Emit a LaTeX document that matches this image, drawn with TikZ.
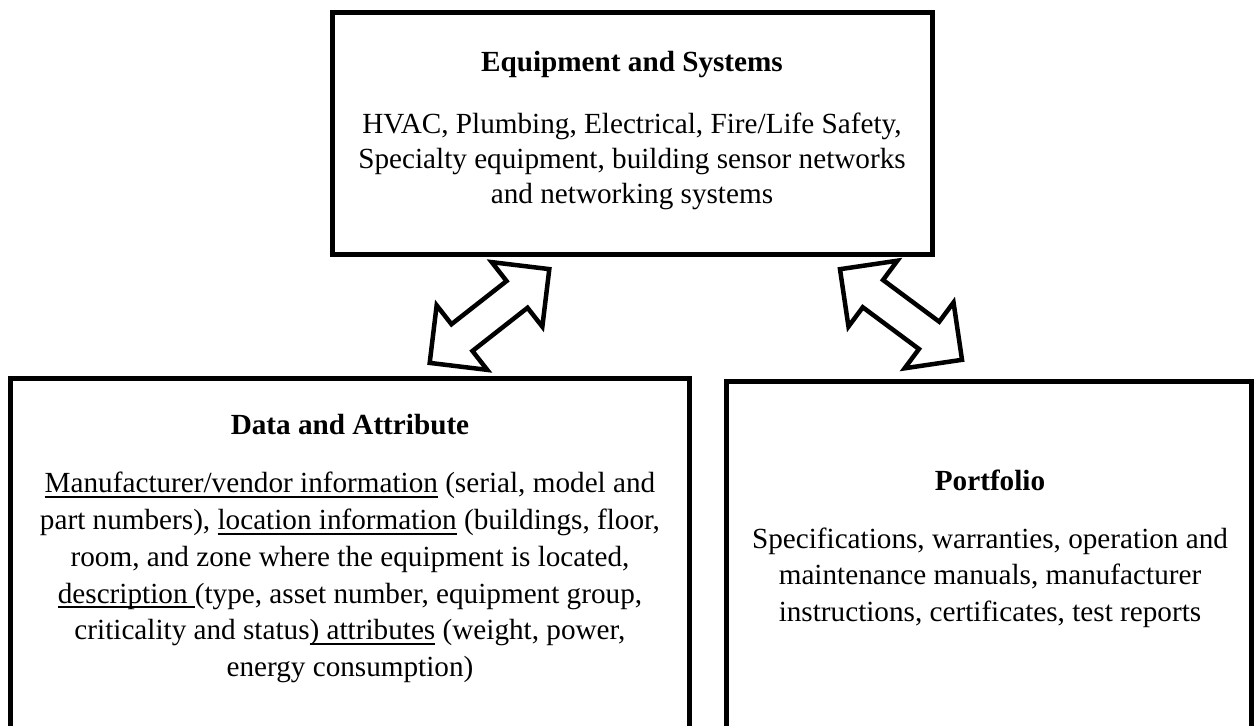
\documentclass[tikz,border=0pt]{standalone}
\usepackage{fontspec}
\setmainfont{Liberation Serif}
\newsavebox\ulbox
\newcommand{\myul}[1]{\sbox\ulbox{#1}\rlap{\rule[-5pt]{\wd\ulbox}{1.8pt}}\usebox\ulbox}
\tikzset{
  box/.style={draw, line width=5pt, rectangle, inner sep=0pt},
  blockarrow/.style={draw, line width=4.5pt, line join=miter, fill=white},
  boxtext/.style={anchor=north, inner sep=0pt, align=center,
    font={\fontsize{29.2}{36.7}\selectfont}},
}
\begin{document}
\begin{tikzpicture}[x=1pt,y=-1pt]
\useasboundingbox (0,0) rectangle (1254,726);
\clip (0,0) rectangle (1254,726);
\fill[white] (0,0) rectangle (1254,726);
% boxes
\node[box, minimum width=600pt, minimum height=242pt] (equip) at (632.5,133.5) {};
\node[box, minimum width=679pt, minimum height=420pt] (data) at (350,588) {};
\node[box, minimum width=525pt, minimum height=420pt] (port) at (989,591.5) {};
% texts
\node[boxtext, font={\fontsize{29.2}{35}\selectfont}] (equiptext) at (632,51) {\textbf{Equipment and Systems}\\[27pt]
HVAC, Plumbing, Electrical, Fire/Life Safety,\\
Specialty equipment, building sensor networks\\
and networking systems};
\node[boxtext] (datatext) at (350,414.5) {\textbf{Data and Attribute}\\[21.3pt]
\myul{Manufacturer/vendor information} (serial, model and\\
part numbers), \myul{location information} (buildings, floor,\\
room, and zone where the equipment is located,\\
\myul{description }(type, asset number, equipment group,\\
criticality and status\myul{) attributes} (weight, power,\\
energy consumption)};
\node[boxtext] (porttext) at (990,469.5) {\textbf{Portfolio}\\[21.3pt]
Specifications, warranties, operation and\\
maintenance manuals, manufacturer\\
instructions, certificates, test reports};
% double block arrows between the boxes
\begin{scope}[shift={(489.5,316)}, rotate=38.1]
\draw[blockarrow] (76,0) -- (35,41) -- (35,17) -- (-35,17) -- (-35,41) -- (-76,0)
  -- (-35,-41) -- (-35,-17) -- (35,-17) -- (35,-41) -- cycle;
\end{scope}
\begin{scope}[shift={(901,314.5)}, rotate=-36.6]
\draw[blockarrow] (76,0) -- (35,41) -- (35,17) -- (-35,17) -- (-35,41) -- (-76,0)
  -- (-35,-41) -- (-35,-17) -- (35,-17) -- (35,-41) -- cycle;
\end{scope}
\end{tikzpicture}
\end{document}
